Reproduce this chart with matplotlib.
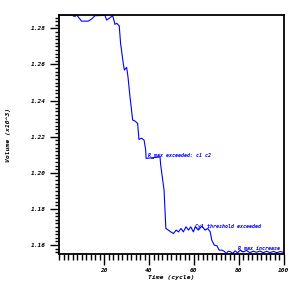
import matplotlib
matplotlib.use('Agg')
import matplotlib.pyplot as plt
from matplotlib.ticker import MultipleLocator, FixedLocator

# cycle / volume
cycle = [0, 7.7, 9.9, 12.9, 14.4, 15.9, 20.3, 21.1, 22.6, 23.8, 24.8, 25.6, 26.7,
         27.3, 28.5, 29.0, 30.0, 30.6, 31.5, 32.7, 33.7, 34.9, 35.5, 36.7, 37.8,
         38.5, 38.7, 44.9, 45.2, 46.1, 46.7, 47.5, 48.6, 49.7, 50.9, 52.1, 53.1,
         54.3, 55.3, 56.5, 57.6, 58.6, 59.8, 60.6, 62.0, 63.6, 65.0, 66.2, 67.3,
         68.0, 69.1, 70.3, 71.3, 72.5, 73.5, 74.4, 75.4, 76.5, 77.4, 78.4, 79.5,
         80.7, 82.0, 83.5, 85.0, 86.5, 88.0, 89.5, 91.0, 92.5, 94.0, 95.5, 97.0,
         98.5, 100.0]
volume = [1.2874, 1.2874, 1.2840, 1.2840, 1.2852, 1.2870, 1.2872, 1.2846, 1.2859,
          1.2870, 1.2822, 1.2828, 1.2814, 1.2717, 1.2606, 1.2569, 1.2584, 1.2532,
          1.2421, 1.2292, 1.2287, 1.2274, 1.2185, 1.2192, 1.2181, 1.2126, 1.2080,
          1.2088, 1.2043, 1.1960, 1.1904, 1.1692, 1.1683, 1.1673, 1.1664, 1.1683,
          1.1673, 1.1692, 1.1673, 1.1701, 1.1683, 1.1701, 1.1673, 1.1701, 1.1683,
          1.1705, 1.1683, 1.1692, 1.1673, 1.1627, 1.1600, 1.1596, 1.1572, 1.1572,
          1.1566, 1.1554, 1.1566, 1.1562, 1.1554, 1.1568, 1.1557, 1.1572, 1.1562,
          1.1570, 1.1558, 1.1566, 1.1560, 1.1567, 1.1558, 1.1566, 1.1558, 1.1565,
          1.1558, 1.1564, 1.1560]

# event labels (text, cycle, volume); the first one sits under the top frame
notes = [("R_max exceeded: t1 t2 t3 ...", 4.7, 1.2883),
         ("R_max exceeded: c1 c2", 39.6, 1.2098),
         ("Cyl_threshold exceeded", 60.6, 1.1706),
         ("R_max increase", 79.8, 1.1583)]

xticks = [20, 40, 60, 80, 100]
yticks = [1.16, 1.18, 1.20, 1.22, 1.24, 1.26, 1.28]

fnt = dict(family='DejaVu Sans Mono', style='italic', weight='bold')

fig = plt.figure(figsize=(3, 3), dpi=100)
ax = fig.add_axes([0.198, 0.153, 0.747, 0.797])

ax.plot(cycle, volume, color='#0000ff', lw=0.8, zorder=2)

for k, (txt, cx, cy) in enumerate(notes):
    ax.text(cx, cy, txt, color='#0000ff', fontsize=3.6, va='center', ha='left',
            zorder=1, clip_on=(k == 0), **fnt)

ax.set_xlim(0, 100)
ax.set_ylim(1.155, 1.2874)

ax.xaxis.set_major_locator(FixedLocator(xticks))
ax.xaxis.set_minor_locator(MultipleLocator(2))
ax.yaxis.set_major_locator(FixedLocator(yticks))
ax.yaxis.set_minor_locator(MultipleLocator(0.002))
ax.set_xticklabels([str(t) for t in xticks], **fnt)
ax.set_yticklabels(['%.2f' % t for t in yticks], **fnt)

ax.tick_params(axis='x', which='major', length=8, width=1.0, labelsize=4.4, pad=2, direction='out')
ax.tick_params(axis='x', which='minor', length=4.3, width=1.0, direction='out')
ax.tick_params(axis='y', which='major', length=6.5, width=1.0, labelsize=4.4, pad=3.5, direction='out')
ax.tick_params(axis='y', which='minor', length=3, width=1.0, direction='out')

for s in ax.spines.values():
    s.set_linewidth(1.3)

ax.set_xlabel('Time (cycle)', fontsize=4.6, labelpad=1.5, **fnt)
ax.set_ylabel('Volume (x10^3)', fontsize=4.6, labelpad=14, **fnt)

fig.savefig('out.png', dpi=100)
